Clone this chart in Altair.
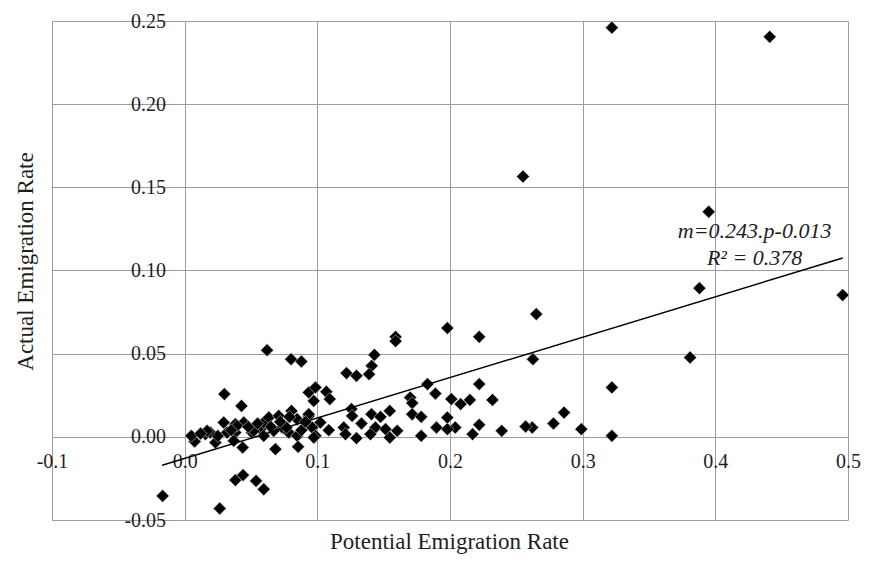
import altair as alt
import pandas as pd

# Potential emigration rate (x) and actual emigration rate (y)
potential = [
    0.322, 0.441, 0.255, 0.395, 0.388, 0.496, 0.265, 0.198, 0.222, 0.381,
    0.2625, 0.322, 0.322, 0.299, 0.286, 0.278, 0.262, 0.257, 0.239, 0.222,
    0.217, 0.204, 0.198, 0.198, 0.232, 0.215, 0.208, 0.201, 0.222,
    0.159, 0.159, 0.143, 0.141, 0.139, 0.122, 0.1295, 0.183, 0.189, 0.170,
    0.1715, 0.1257, 0.1262, 0.1408, 0.1476, 0.1546, 0.1715, 0.1783, 0.1199, 0.1333,
    0.1438, 0.1514, 0.1602, 0.1898, 0.1212, 0.1295, 0.14, 0.1546, 0.1783,
    0.0621, 0.0802, 0.088, 0.0935, 0.0986, 0.0973, 0.1068, 0.1094, 0.0299, 0.0428,
    0.0075, 0.005, 0.0156, 0.0194, 0.0232, 0.0294, 0.032, 0.0382, 0.0445, 0.0382,
    0.037, 0.0437, 0.0508, 0.0571, 0.0596, 0.0634, 0.0596, 0.0684, 0.0709, 0.0735,
    0.0805, 0.0848, 0.0784, 0.0848, 0.0855, 0.0935, 0.0961, 0.0986, 0.0169, 0.0395,
    0.052, 0.0671, 0.0767, 0.1023, 0.1086, 0.0973, 0.0935,
    0.012, 0.025, 0.035, 0.048, 0.055, 0.065, 0.072, 0.079, 0.088, 0.091,
    0.0382, 0.044, 0.0538, 0.0596, -0.0166, 0.0264,
]
actual = [
    0.246, 0.2405, 0.1565, 0.1353, 0.0894, 0.0852, 0.0738, 0.0654, 0.0601, 0.0477,
    0.0467, 0.0297, 0.0006, 0.0046, 0.0146, 0.008, 0.0056, 0.0062, 0.0036, 0.0072,
    0.0016, 0.0056, 0.0046, 0.0116, 0.0222, 0.0222, 0.0197, 0.0227, 0.0317,
    0.0601, 0.0575, 0.0493, 0.0427, 0.0377, 0.0383, 0.0367, 0.0317, 0.026, 0.0236,
    0.0203, 0.0167, 0.0126, 0.0136, 0.012, 0.0156, 0.0136, 0.012, 0.0056, 0.008,
    0.0056, 0.0046, 0.0036, 0.0056, 0.0016, -0.0008, 0.0016, -0.0004, 0.0006,
    0.0521, 0.0467, 0.0453, 0.0267, 0.0297, 0.0216, 0.0271, 0.0227, 0.0257, 0.0186,
    -0.0028, 0.0006, 0.0016, 0.0026, -0.0034, 0.0086, 0.0026, 0.0076, 0.0086, 0.0026,
    -0.0024, -0.0064, 0.0026, 0.0046, 0.0086, 0.0116, 0.0006, -0.0074, 0.0126, 0.0056,
    0.0156, 0.0106, 0.0026, 0.0006, -0.006, 0.0126, 0.0056, 0.0006, 0.0036, 0.0066,
    0.0036, 0.0036, 0.0056, 0.0086, 0.004, -0.0004, 0.0136,
    0.002, 0.0005, 0.004, 0.006, 0.008, 0.006, 0.009, 0.012, 0.004, 0.009,
    -0.026, -0.023, -0.0265, -0.0315, -0.0355, -0.0431,
]

# Trend line (as printed on the chart)
slope = 0.243
intercept = -0.013
trend_x = [-0.017, 0.496]

# Equation annotation
eq_lines = ["m=0.243.p-0.013", "R² = 0.378"]
eq_x = [0.4296, 0.4296]
eq_y = [0.1239, 0.1076]

x_ticks = [-0.1, 0.0, 0.1, 0.2, 0.3, 0.4, 0.5]
y_ticks = [-0.05, 0.0, 0.05, 0.10, 0.15, 0.20, 0.25]

FONT = "Liberation Serif"
GRID = "#9c9c9c"
TXT = "#1e1e1e"

pts = pd.DataFrame({"p": potential, "a": actual})
xs = alt.Scale(domain=[-0.1, 0.5], nice=False, zero=False)
ys = alt.Scale(domain=[-0.05, 0.25], nice=False, zero=False)

x_axis = alt.Axis(
    values=x_ticks, orient="bottom", offset=-84, domain=False, ticks=False,
    tickSize=0, grid=True, gridColor=GRID, gridWidth=1, gridOpacity=1,
    labelFont=FONT, labelFontSize=20, labelColor=TXT, labelPadding=15,
    labelFlush=False, labelOverlap=False,
    labelExpr="datum.value < 0 ? '-' + format(-datum.value, '.1f') : format(datum.value, '.1f')",
    title="Potential Emigration Rate", titleFont=FONT, titleFontSize=23,
    titleFontWeight="normal", titleColor=TXT, titleX=397, titleY=112,
    titleAlign="center", titleBaseline="alphabetic", titleAnchor="middle",
)
y_axis = alt.Axis(
    values=y_ticks, orient="left", offset=-132.6, domain=False, ticks=False,
    tickSize=0, grid=True, gridColor=GRID, gridWidth=1, gridOpacity=1,
    labelFont=FONT, labelFontSize=20, labelColor=TXT, labelPadding=19,
    labelFlush=False, labelOverlap=False,
    labelExpr="datum.value < 0 ? '-' + format(-datum.value, '.2f') : format(datum.value, '.2f')",
    title="Actual Emigration Rate", titleFont=FONT, titleFontSize=23,
    titleFontWeight="normal", titleColor=TXT, titleX=-159, titleY=240,
    titleAngle=-90, titleAlign="center", titleBaseline="middle",
)

points = alt.Chart(pts).mark_point(
    shape="diamond", filled=True, size=165, fill="#000000", opacity=1,
    stroke="#c9d3e3", strokeWidth=0.6,
).encode(
    x=alt.X("p:Q", scale=xs, axis=x_axis),
    y=alt.Y("a:Q", scale=ys, axis=y_axis),
)

trend = alt.Chart(pd.DataFrame({"p": trend_x})).transform_calculate(
    a=f"{slope} * datum.p + ({intercept})"
).mark_line(color="#000000", strokeWidth=1.5).encode(
    x=alt.X("p:Q", scale=xs),
    y=alt.Y("a:Q", scale=ys),
)

eq = alt.Chart(pd.DataFrame({"p": eq_x, "a": eq_y, "t": eq_lines})).mark_text(
    font=FONT, fontSize=22, fontStyle="italic", color=TXT, align="center",
    baseline="middle",
).encode(
    x=alt.X("p:Q", scale=xs),
    y=alt.Y("a:Q", scale=ys),
    text="t:N",
)

chart = alt.layer(points, trend, eq).properties(
    width=796, height=499,
    autosize=alt.AutoSizeParams(type="none"),
    padding={"left": 44, "top": 13, "right": 20, "bottom": 36},
).configure_view(stroke=GRID, strokeWidth=1).configure(background="white")

chart.save("out.html", embed_options={"renderer": "svg", "actions": False})
